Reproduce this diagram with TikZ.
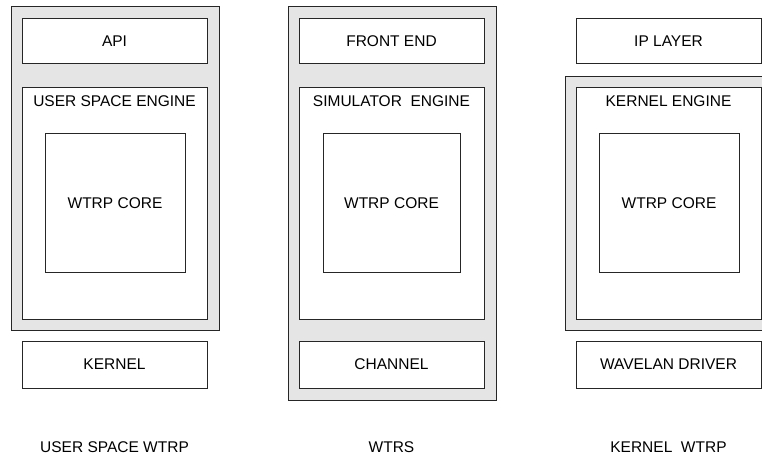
\documentclass[tikz,border=0pt]{standalone}
\usepackage{fontspec}
\setmainfont{Liberation Sans}
\begin{document}
\begin{tikzpicture}[x=1pt,y=-1pt,
  font=\fontsize{15.5}{18}\selectfont,
  frame/.style={draw=black!85,line width=1pt,fill=white,rectangle,inner sep=0pt},
  shell/.style={draw=black!85,line width=1pt,fill=gray!20,rectangle,inner sep=0pt},
  caption/.style={inner sep=0pt,anchor=center}]
\clip (0,0) rectangle (762,457);
\fill[white] (0,0) rectangle (762,457);

% column 1: user space implementation
\node[shell,minimum width=208pt,minimum height=323pt] (us) at (115,168.5) {};
\node[frame,minimum width=185pt,minimum height=45pt] (api) at (114.5,41.5) {API};
\node[frame,minimum width=185pt,minimum height=231pt] (use) at (114.5,203.5) {};
\node[caption] (uset) at (114.5,101) {USER SPACE ENGINE};
\node[frame,minimum width=140pt,minimum height=138pt] (usc) at (115,203) {WTRP CORE};
\node[frame,minimum width=185pt,minimum height=47pt] (krn) at (114.5,364.5) {KERNEL};
\node[caption] (usl) at (114.5,447) {USER SPACE WTRP};

% column 2: simulator
\node[shell,minimum width=208pt,minimum height=393pt] (sim) at (392,203.5) {};
\node[frame,minimum width=185pt,minimum height=45pt] (fe) at (391.5,41.5) {FRONT END};
\node[frame,minimum width=185pt,minimum height=231pt] (se) at (391.5,203.5) {};
\node[caption] (set) at (391.5,101) {SIMULATOR~~ENGINE};
\node[frame,minimum width=137pt,minimum height=138pt] (sc) at (391.5,203) {WTRP CORE};
\node[frame,minimum width=185pt,minimum height=47pt] (ch) at (391.5,364.5) {CHANNEL};
\node[caption] (sl) at (391.5,447) {WTRS};

% column 3: kernel implementation
\node[frame,minimum width=185pt,minimum height=45pt] (ip) at (668.5,41.5) {IP LAYER};
\node[shell,minimum width=210pt,minimum height=253pt] (kn) at (670,203.5) {};
\node[frame,minimum width=185pt,minimum height=231pt] (ke) at (668.5,203.5) {};
\node[caption] (ket) at (668.5,101) {KERNEL ENGINE};
\node[frame,minimum width=140pt,minimum height=138pt] (kc) at (669,203) {WTRP CORE};
\node[frame,minimum width=185pt,minimum height=47pt] (wd) at (668.5,364.5) {WAVELAN DRIVER};
\node[caption] (kl) at (668.5,447) {KERNEL~~WTRP};
\end{tikzpicture}
\end{document}
